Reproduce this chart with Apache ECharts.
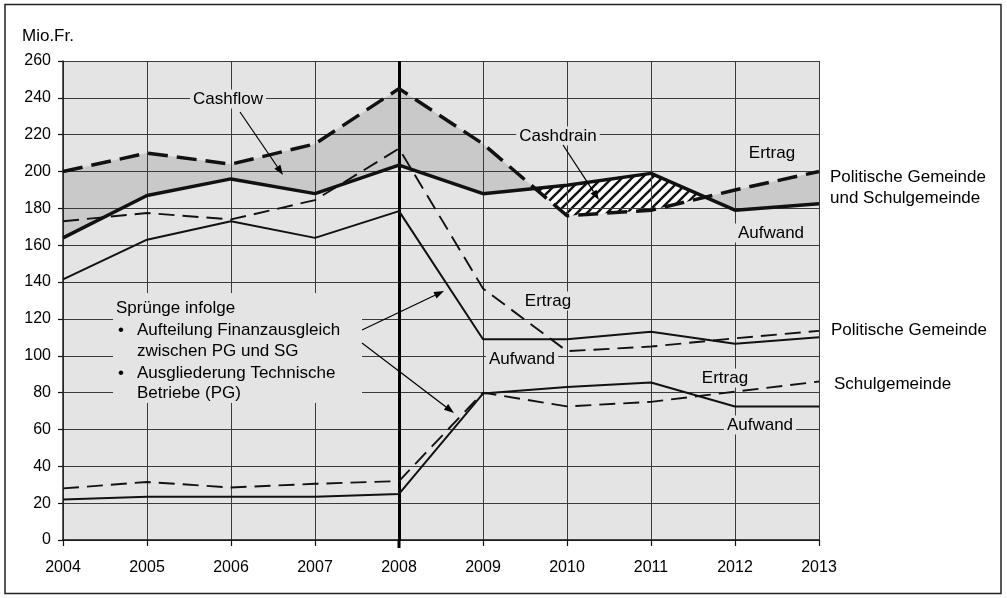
<!DOCTYPE html>
<html>
<head>
<meta charset="utf-8">
<script src="https://cdn.jsdelivr.net/npm/echarts@6/dist/echarts.min.js"></script>
<style>
  html, body { margin: 0; padding: 0; background: #fff; }
  #chart { width: 1007px; height: 598px; }
</style>
</head>
<body>
<div id="chart"></div>
<script>
// ---- data (Mio. Fr.) ----
const years        = [2004, 2005, 2006, 2007, 2008, 2009, 2010, 2011, 2012, 2013];
const totalErtrag  = [200, 210, 204, 215, 245, 215, 176, 179, 190, 200];
const totalAufwand = [164, 187, 196, 188, 203.5, 188, 192.5, 199, 179, 182.5];
const pgErtrag     = [173, 177.5, 174, 184.5, 212.5, 136.5, 102.5, 105, 109.5, 113.5];
const pgAufwand    = [141.5, 163, 173, 164, 178.5, 109, 109, 113, 106.5, 110];
const sgErtrag     = [28, 31.5, 28.5, 30.5, 32, 80, 72.5, 75, 80.5, 86];
const sgAufwand    = [22, 23.5, 23.5, 23.5, 25, 79.5, 83, 85.5, 72.5, 72.5];
const yTicks       = { min: 0, max: 260, step: 20 };
const markYear     = 2008;

const FONT = '"Liberation Sans", Arial, sans-serif';
const BG = '#e4e4e4';
const CASHFLOW = '#c9c9c9';

// hatch pattern for Cashdrain
const hatch = document.createElement('canvas');
hatch.width = 10; hatch.height = 10;
(function () {
  const c = hatch.getContext('2d');
  c.fillStyle = '#ffffff'; c.fillRect(0, 0, 10, 10);
  c.strokeStyle = '#111'; c.lineWidth = 2.4;
  [[-10, 10, 10, -10], [0, 10, 10, 0], [0, 20, 20, 0]].forEach(function (l) {
    c.beginPath(); c.moveTo(l[0], l[1]); c.lineTo(l[2], l[3]); c.stroke();
  });
})();

function pairs(vals) { return years.map(function (y, i) { return [y, vals[i]]; }); }

// fill between total Ertrag and Aufwand (cashflow / cashdrain)
function renderFill(params, api) {
  if (params.dataIndex !== 0) return;
  const pts = [];
  for (let i = 0; i < years.length; i++) {
    pts.push({ x: years[i], e: totalErtrag[i], a: totalAufwand[i] });
    if (i < years.length - 1) {
      const d0 = totalErtrag[i] - totalAufwand[i];
      const d1 = totalErtrag[i + 1] - totalAufwand[i + 1];
      if (d0 * d1 < 0) {
        const t = d0 / (d0 - d1);
        const x = years[i] + t * (years[i + 1] - years[i]);
        const v = totalErtrag[i] + t * (totalErtrag[i + 1] - totalErtrag[i]);
        pts.push({ x: x, e: v, a: v });
      }
    }
  }
  const runs = [];
  let cur = null;
  pts.forEach(function (p) {
    const s = p.e - p.a;
    const sign = s > 0 ? 1 : (s < 0 ? -1 : 0);
    if (!cur) { cur = { sign: sign, pts: [p] }; return; }
    if (sign === 0) { cur.pts.push(p); runs.push(cur); cur = { sign: 0, pts: [p] }; return; }
    if (cur.sign === 0) cur.sign = sign;
    cur.pts.push(p);
  });
  if (cur && cur.pts.length > 1) runs.push(cur);
  const children = runs.map(function (r) {
    const poly = [];
    r.pts.forEach(function (p) { poly.push(api.coord([p.x, p.e])); });
    for (let k = r.pts.length - 1; k >= 0; k--) poly.push(api.coord([r.pts[k].x, r.pts[k].a]));
    return {
      type: 'polygon',
      shape: { points: poly },
      style: r.sign >= 0 ? { fill: CASHFLOW } : { fill: { image: hatch, repeat: 'repeat' } }
    };
  });
  return { type: 'group', children: children };
}

function arrow(x1, y1, x2, y2) {
  const ang = Math.atan2(y2 - y1, x2 - x1);
  const L = 10, W = 3.6;
  const c = Math.cos(ang), s = Math.sin(ang);
  const bx = x2 - L * c, by = y2 - L * s;
  return [
    { type: 'line', z: 30, shape: { x1: x1, y1: y1, x2: bx, y2: by }, style: { stroke: '#000', lineWidth: 1.2 } },
    { type: 'polygon', z: 30, shape: { points: [[x2, y2], [bx - W * s, by + W * c], [bx + W * s, by - W * c]] }, style: { fill: '#000' } }
  ];
}

function label(text, x, y, opts) {
  opts = opts || {};
  const st = {
    text: text, x: x, y: y, fill: '#000',
    font: (opts.size || 17) + 'px ' + FONT,
    textAlign: opts.align || 'center', textVerticalAlign: 'middle'
  };
  if (opts.bg) { st.backgroundColor = BG; st.padding = [1, 3, 1, 3]; }
  return { type: 'text', z: 30, style: st };
}

const graphics = [
  { type: 'rect', z: 30, shape: { x: 5, y: 4.5, width: 996, height: 589 }, style: { fill: 'none', stroke: '#222', lineWidth: 1.5 } },
  label('Mio.Fr.', 22, 36, { align: 'left' }),
  label('Cashflow', 228, 99, { bg: true }),
  label('Cashdrain', 558, 136, { bg: true }),
  label('Ertrag', 772, 153, { bg: true }),
  label('Aufwand', 771, 233, { bg: true }),
  label('Politische Gemeinde', 830, 177, { align: 'left' }),
  label('und Schulgemeinde', 830, 198, { align: 'left' }),
  label('Ertrag', 548, 301, { bg: true }),
  label('Aufwand', 522, 359, { bg: true }),
  label('Politische Gemeinde', 831, 330, { align: 'left' }),
  label('Ertrag', 725, 378, { bg: true }),
  label('Schulgemeinde', 834, 384, { align: 'left' }),
  label('Aufwand', 760, 425, { bg: true }),
  { type: 'rect', z: 29, shape: { x: 113, y: 293, width: 249, height: 110 }, style: { fill: BG } },
  label('Sprünge infolge', 116, 308, { align: 'left' }),
  label('•', 118, 330, { align: 'left' }),
  label('Aufteilung Finanzausgleich', 137, 330, { align: 'left' }),
  label('zwischen PG und SG', 137, 351, { align: 'left' }),
  label('•', 118, 373, { align: 'left' }),
  label('Ausgliederung Technische', 137, 373, { align: 'left' }),
  label('Betriebe (PG)', 137, 393, { align: 'left' })
].concat(
  arrow(240, 112, 283, 175),
  arrow(563, 145, 599, 200),
  arrow(362, 330, 444, 291),
  arrow(362, 343, 454, 413)
);

const thickDash = { color: '#111', width: 3.5, type: [20, 9] };
const thinDash  = { color: '#111', width: 1.9, type: [16, 8] };

const option = {
  animation: false,
  backgroundColor: '#fff',
  grid: { left: 63, right: 188, top: 61, bottom: 58, show: true, backgroundColor: BG, borderWidth: 0 },
  xAxis: {
    type: 'value', min: years[0], max: years[years.length - 1], interval: 1, z: 3,
    axisLine: { lineStyle: { color: '#111', width: 1.5 } },
    axisTick: { show: true, length: 6, lineStyle: { color: '#111', width: 1.2 } },
    axisLabel: { color: '#000', fontSize: 16, fontFamily: FONT, margin: 20, formatter: function (v) { return String(v); } },
    splitLine: { show: true, lineStyle: { color: '#3a3a3a', width: 1 } }
  },
  yAxis: {
    type: 'value', min: yTicks.min, max: yTicks.max, interval: yTicks.step, z: 3,
    axisLine: { show: true, lineStyle: { color: '#222', width: 1.5 } },
    axisTick: { show: true, length: 5, lineStyle: { color: '#111', width: 1.2 } },
    axisLabel: { color: '#000', fontSize: 16, fontFamily: FONT, margin: 12 },
    splitLine: { show: true, lineStyle: { color: '#3a3a3a', width: 1 } }
  },
  graphic: graphics,
  series: [
    { type: 'custom', name: 'fill', z: 2, silent: true, renderItem: renderFill, data: [[years[0], 0]] },
    { type: 'line', name: 'Total Ertrag', z: 5, symbol: 'none', data: pairs(totalErtrag), lineStyle: thickDash },
    { type: 'line', name: 'Total Aufwand', z: 5, symbol: 'none', data: pairs(totalAufwand), lineStyle: { color: '#111', width: 3.5 },
      markLine: { silent: true, symbol: 'none', label: { show: false }, lineStyle: { color: '#000', width: 3, type: 'solid' }, data: [{ xAxis: markYear }] } },
    { type: 'line', name: 'PG Ertrag', z: 5, symbol: 'none', data: pairs(pgErtrag), lineStyle: thinDash },
    { type: 'line', name: 'PG Aufwand', z: 5, symbol: 'none', data: pairs(pgAufwand), lineStyle: { color: '#111', width: 2 } },
    { type: 'line', name: 'SG Ertrag', z: 5, symbol: 'none', data: pairs(sgErtrag), lineStyle: thinDash },
    { type: 'line', name: 'SG Aufwand', z: 5, symbol: 'none', data: pairs(sgAufwand), lineStyle: { color: '#111', width: 2 } }
  ]
};

const chart = echarts.init(document.getElementById('chart'), null, { renderer: 'canvas' });
chart.setOption(option);

// extend the 2008 marker line slightly below the x axis (like its tick)
const p0 = chart.convertToPixel({ gridIndex: 0 }, [markYear, yTicks.min]);
chart.setOption({
  graphic: graphics.concat([
    { type: 'line', z: 31, shape: { x1: p0[0], y1: p0[1], x2: p0[0], y2: p0[1] + 8 }, style: { stroke: '#000', lineWidth: 3 } }
  ])
});
</script>
</body>
</html>
